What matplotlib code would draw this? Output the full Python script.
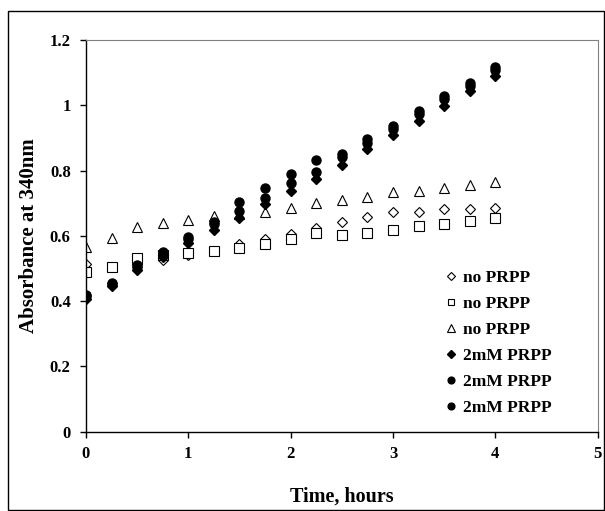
import matplotlib.pyplot as plt
from matplotlib.patches import Rectangle

# time points (hours)
time_h = [0, 0.25, 0.5, 0.75, 1, 1.25, 1.5, 1.75, 2, 2.25, 2.5, 2.75, 3, 3.25, 3.5, 3.75, 4]

# no PRPP replicates
no_prpp_1 = [0.513, 0.505, 0.515, 0.526, 0.541, 0.555, 0.574, 0.589, 0.605, 0.625,
             0.641, 0.657, 0.672, 0.672, 0.683, 0.683, 0.685]
no_prpp_2 = [0.488, 0.506, 0.533, 0.540, 0.547, 0.555, 0.563, 0.576, 0.591, 0.608,
             0.604, 0.608, 0.619, 0.631, 0.637, 0.646, 0.654]
no_prpp_3 = [0.565, 0.594, 0.626, 0.640, 0.647, 0.660, 0.667, 0.673, 0.684, 0.700,
             0.710, 0.719, 0.733, 0.738, 0.745, 0.756, 0.765]

# 2mM PRPP replicates
prpp_1 = [0.408, 0.447, 0.495, 0.535, 0.579, 0.618, 0.655, 0.697, 0.736, 0.775,
          0.818, 0.866, 0.908, 0.953, 0.999, 1.044, 1.090]
prpp_2 = [0.415, 0.452, 0.505, 0.545, 0.591, 0.636, 0.675, 0.717, 0.761, 0.795,
          0.840, 0.885, 0.928, 0.972, 1.018, 1.060, 1.108]
prpp_3 = [0.420, 0.455, 0.510, 0.552, 0.597, 0.643, 0.703, 0.747, 0.790, 0.833,
          0.852, 0.895, 0.937, 0.982, 1.027, 1.068, 1.118]

labels = ['no PRPP', 'no PRPP', 'no PRPP', '2mM PRPP', '2mM PRPP', '2mM PRPP']

plt.rcParams['font.family'] = ['Liberation Serif', 'DejaVu Serif']
plt.rcParams['font.weight'] = 'bold'

fig = plt.figure(figsize=(6.05, 5.11), dpi=100)
ax = fig.add_axes([0.142, 0.155, 0.846, 0.767])

# outer frame around the whole chart
fig.patches.append(Rectangle((0.014, 0.002), 0.984, 0.976, transform=fig.transFigure,
                             fill=False, edgecolor='black', linewidth=1.0))

ax.plot(time_h, no_prpp_1, linestyle='none', marker='D', markersize=5,
        mfc='white', mec='black', mew=0.8, label=labels[0])
ax.plot(time_h, no_prpp_2, linestyle='none', marker='s', markersize=6.5,
        mfc='white', mec='black', mew=0.8, label=labels[1])
ax.plot(time_h, no_prpp_3, linestyle='none', marker='^', markersize=7,
        mfc='white', mec='black', mew=0.8, label=labels[2])
ax.plot(time_h, prpp_1, linestyle='none', marker='D', markersize=5,
        color='black', label=labels[3])
ax.plot(time_h, prpp_2, linestyle='none', marker='o', markersize=6.5,
        color='black', label=labels[4])
ax.plot(time_h, prpp_3, linestyle='none', marker='o', markersize=6.5,
        color='black', label=labels[5])

ax.set_xlim(0, 5)
ax.set_ylim(0, 1.2)
ax.set_xticks([0, 1, 2, 3, 4, 5])
ax.set_yticks([0, 0.2, 0.4, 0.6, 0.8, 1.0, 1.2])
ax.set_yticklabels(['0', '0.2', '0.4', '0.6', '0.8', '1', '1.2'])
ax.tick_params(direction='out', length=4, width=1, labelsize=12, pad=7)
ax.tick_params(axis='x', pad=6)

for side in ['left', 'bottom']:
    ax.spines[side].set_linewidth(1.0)
    ax.spines[side].set_color('black')
for side in ['top', 'right']:
    ax.spines[side].set_linewidth(0.8)
    ax.spines[side].set_color('#808080')

ax.set_xlabel('Time, hours', fontsize=14.5, fontweight='bold', labelpad=18)
ax.set_ylabel('Absorbance at 340nm', fontsize=15, fontweight='bold', labelpad=8)

leg = ax.legend(loc='upper left', bbox_to_anchor=(0.68, 0.43), frameon=False,
                fontsize=12.5, handletextpad=0.05, labelspacing=0.56,
                handlelength=1.2, borderaxespad=0, markerscale=0.75)

fig.savefig('out.png', dpi=100)
